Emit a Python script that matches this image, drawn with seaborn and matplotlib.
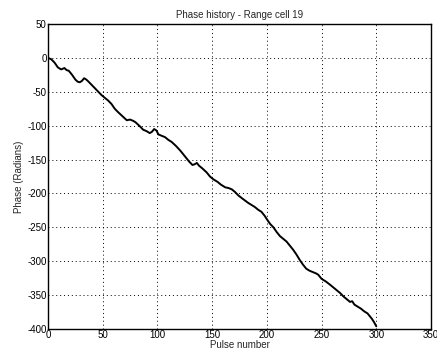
import matplotlib
matplotlib.use("Agg")
import matplotlib.pyplot as plt
import seaborn as sns
import pandas as pd

pulse = [0, 3, 6, 9, 12, 15, 17, 19, 22, 25, 27, 29, 31, 33, 35, 37, 40, 43, 46, 49,
         52, 55, 58, 61, 64, 68, 72, 75, 78, 80, 84, 87, 90, 93, 95, 97, 99, 101, 104,
         107, 110, 113, 117, 121, 125, 129, 132, 134, 136, 138, 141, 145, 148, 151,
         155, 158, 162, 165, 168, 171, 174, 178, 183, 186, 189, 192, 195, 198, 200,
         203, 206, 209, 212, 215, 218, 221, 224, 227, 230, 233, 236, 239, 242, 245,
         247, 250, 254, 258, 261, 264, 267, 270, 273, 276, 278, 280, 283, 286, 289,
         292, 294, 296, 298, 300]
phase = [0, -2, -7, -14, -17, -15, -18, -19, -25, -32, -35, -36, -34, -30, -32, -35,
         -40, -45, -50, -55, -59, -63, -68, -75, -80, -86, -92, -91, -93, -95, -101,
         -106, -108, -111, -109, -105, -107, -113, -115, -117, -121, -124, -130, -137,
         -145, -153, -158, -157, -155, -159, -163, -169, -175, -179, -183, -187, -191,
         -192, -194, -198, -203, -208, -214, -217, -220, -224, -227, -233, -238, -245,
         -250, -257, -263, -267, -271, -277, -283, -290, -298, -305, -311, -314, -316,
         -318, -320, -326, -330, -335, -339, -343, -347, -352, -356, -360, -359, -364,
         -367, -370, -374, -377, -381, -385, -390, -396]

xticks = [0, 50, 100, 150, 200, 250, 300, 350]
yticks = [50, 0, -50, -100, -150, -200, -250, -300, -350, -400]

sns.set_style("white")
plt.rcParams['font.family'] = ['Liberation Sans', 'DejaVu Sans']
plt.rcParams['axes.unicode_minus'] = False

df = pd.DataFrame({"Pulse number": pulse, "Phase (Radians)": phase})

fig = plt.figure(figsize=(4.37, 3.53), dpi=100)
ax = fig.add_axes([48/437, 1 - 329/353, 383/437, 305/353])
sns.lineplot(data=df, x="Pulse number", y="Phase (Radians)", ax=ax,
             color="black", linewidth=1.4)
ax.set_xlim(0, 350)
ax.set_ylim(-400, 50)
ax.set_xticks(xticks)
ax.set_yticks(yticks)
ax.set_xticklabels([str(t) for t in xticks])
ax.set_yticklabels([str(t) for t in yticks])
ax.grid(True, color="black", linestyle=(0, (1, 3)), linewidth=0.7)
ax.tick_params(direction="in", length=3, labelsize=7, pad=1, colors="black")
for s in ax.spines.values():
    s.set_color("black")
    s.set_linewidth(1.0)
ax.set_xlabel("Pulse number", fontsize=7, labelpad=0)
ax.set_ylabel("Phase (Radians)", fontsize=7, labelpad=2)
ax.set_title("Phase history - Range cell 19", fontsize=7, pad=4)
fig.savefig("out.png", dpi=100)
